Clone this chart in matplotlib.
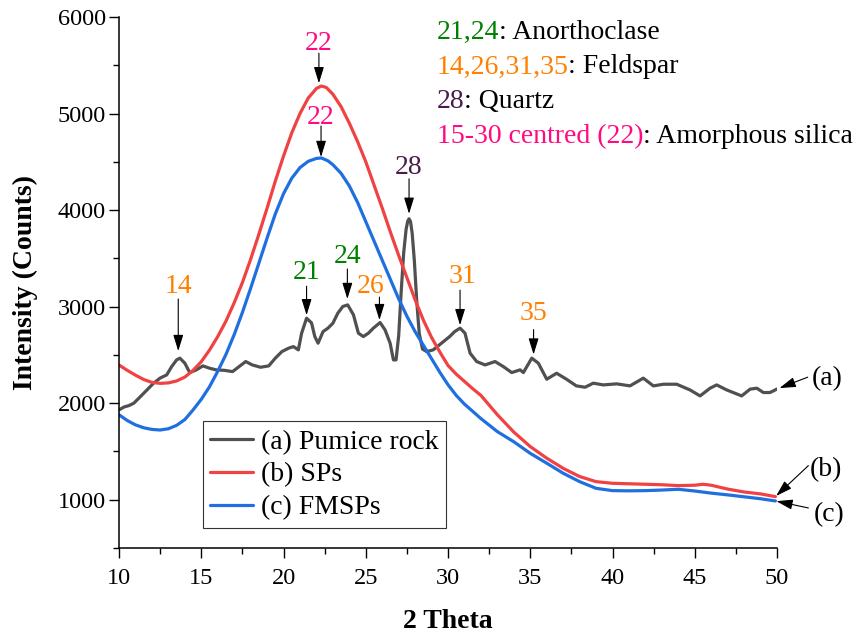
"""XRD patterns of pumice rock, SPs and FMSPs over 2θ = 10–50° with phase labels.

    python3 plot.py  ->  out.png
"""

import matplotlib

matplotlib.use("Agg")
import matplotlib.pyplot as plt
import numpy as np
from matplotlib.ticker import MultipleLocator

OUT = "out.png"
FONT = ["Liberation Serif", "DejaVu Serif"]

# (a) pumice rock: raw, noisy diffractogram
PUMICE_2THETA = [
    10.0, 10.3, 10.6, 10.9, 11.3, 11.7, 12.1, 12.5, 12.9, 13.2, 13.5, 13.7,
    14.0, 14.3, 14.7, 15.1, 15.5, 15.9, 16.4, 16.9, 17.3, 17.7, 18.1, 18.6,
    19.1, 19.5, 19.9, 20.3, 20.6, 20.9, 21.1, 21.4, 21.7, 21.9, 22.1, 22.4,
    22.7, 23.0, 23.3, 23.6, 23.9, 24.25, 24.55, 24.85, 25.16, 25.46, 25.87,
    26.17, 26.48, 26.68, 26.84, 27.0, 27.15, 27.3, 27.45, 27.55, 27.63, 27.72,
    27.82, 27.95, 28.1, 28.25, 28.45, 28.7, 29.1, 29.6, 30.1, 30.4, 30.73,
    31.03, 31.34, 31.74, 32.25, 32.86, 33.36, 33.87, 34.38, 34.58, 35.09,
    35.49, 36.0, 36.6, 37.2, 37.8, 38.33, 38.83, 39.44, 40.25, 41.06, 41.87,
    42.48, 43.09, 43.9, 44.71, 45.32, 45.93, 46.33, 46.94, 47.85, 48.36,
    48.77, 49.17, 49.57, 49.98,
]
PUMICE_COUNTS = [
    1930, 1960, 1975, 2000, 2068, 2137, 2207, 2260, 2293, 2379, 2448, 2466,
    2414, 2316, 2345, 2386, 2362, 2345, 2340, 2327, 2379, 2431, 2396, 2372,
    2386, 2466, 2534, 2569, 2586, 2552, 2725, 2880, 2832, 2690, 2621, 2741,
    2777, 2828, 2932, 3001, 3018, 2915, 2725, 2690, 2725, 2777, 2835,
    2759, 2621, 2448, 2448, 2700, 3150, 3550, 3800, 3885, 3910, 3880,
    3760, 3480, 3050, 2720, 2560, 2534, 2552, 2621, 2690, 2741, 2777,
    2725, 2518, 2431, 2396, 2431, 2379, 2317, 2345, 2317, 2466,
    2414, 2248, 2310, 2248, 2179, 2165, 2207, 2189, 2200, 2179, 2259,
    2179, 2196, 2196, 2137, 2075, 2155, 2189, 2137, 2075, 2145,
    2155, 2110, 2110, 2145,
]

# (b) SPs: broad amorphous hump
SP_2THETA = [
    10.0, 10.5, 11.0, 11.5, 12.0, 12.5, 13.0, 13.5, 14.0, 14.5, 15.0, 15.5,
    16.0, 16.5, 17.0, 17.5, 18.0, 18.5, 19.0, 19.5, 20.0, 20.5, 21.0, 21.5,
    22.0, 22.3, 22.6, 23.0, 23.5, 24.0, 24.5, 25.0, 25.5, 26.0, 26.5, 27.0,
    27.5, 28.0, 28.5, 29.0, 29.5, 30.0, 30.5, 31.0, 31.5, 32.0, 33.0, 34.0,
    35.0, 36.0, 37.0, 38.0, 39.0, 40.0, 41.0, 42.0, 43.0, 44.0, 45.0, 45.5,
    46.0, 47.0, 48.0, 49.0, 49.9,
]
SP_COUNTS = [
    2395, 2340, 2290, 2245, 2215, 2205, 2210, 2230, 2270, 2340, 2430, 2550,
    2690, 2850, 3040, 3250, 3490, 3750, 4020, 4300, 4560, 4800, 5000, 5160,
    5260, 5285, 5270, 5200, 5070, 4900, 4710, 4500, 4260, 4020, 3770, 3530,
    3300, 3070, 2860, 2680, 2530, 2390, 2300, 2225, 2150, 2080, 1880, 1700,
    1550, 1430, 1325, 1240, 1187, 1170, 1165, 1160, 1155, 1146, 1150, 1160,
    1150, 1110, 1080, 1060, 1032,
]

# (c) FMSPs
FMSP_2THETA = [
    10.0, 10.5, 11.0, 11.5, 12.0, 12.5, 13.0, 13.5, 14.0, 14.5, 15.0, 15.5,
    16.0, 16.5, 17.0, 17.5, 18.0, 18.5, 19.0, 19.5, 20.0, 20.5, 21.0, 21.5,
    22.0, 22.3, 22.7, 23.0, 23.5, 24.0, 24.5, 25.0, 25.5, 26.0, 26.5, 27.0,
    27.5, 28.0, 28.5, 29.0, 29.5, 30.0, 30.5, 31.0, 31.5, 32.0, 33.0, 34.0,
    35.0, 36.0, 37.0, 38.0, 39.0, 40.0, 41.0, 42.0, 43.0, 44.0, 45.0, 46.0,
    47.0, 48.0, 49.0, 49.9,
]
FMSP_COUNTS = [
    1880, 1820, 1775, 1745, 1728, 1722, 1735, 1770, 1830, 1930, 2040, 2170,
    2330, 2505, 2710, 2940, 3190, 3450, 3710, 3960, 4170, 4330, 4440, 4505,
    4535, 4540, 4510, 4470, 4380, 4250, 4080, 3880, 3680, 3480, 3280, 3080,
    2900, 2740, 2600, 2460, 2320, 2190, 2080, 1990, 1915, 1840, 1705, 1600,
    1480, 1378, 1274, 1187, 1118, 1094, 1092, 1094, 1100, 1108, 1090, 1068,
    1050, 1030, 1010, 987,
]

SERIES_LABELS = ["(a) Pumice rock", "(b) SPs", "(c) FMSPs"]
END_TAGS = ["(a)", "(b)", "(c)"]

PEAK_LABELS = ["14", "21", "22", "22", "24", "26", "28", "31", "35"]
PEAK_2THETA = [13.6, 21.4, 22.15, 22.28, 23.88, 25.83, 27.63, 30.73, 35.2]
PEAK_SERIES = [0, 0, 1, 2, 0, 0, 0, 0, 0]
PEAK_PHASE = ["feldspar", "anorthoclase", "silica", "silica", "anorthoclase",
              "feldspar", "quartz", "feldspar", "feldspar"]

KEY_PREFIX = ["21,24", "14,26,31,35", "28", "15-30 centred (22)"]
KEY_NAME = [": Anorthoclase", ": Feldspar", ": Quartz", ": Amorphous silica"]
KEY_PHASE = ["anorthoclase", "feldspar", "quartz", "silica"]

LINE_COLORS = ["#505050", "#F04242", "#1F6FE0"]
PHASE_COLORS = {"anorthoclase": "#008000", "feldspar": "#FF8000",
                "quartz": "#4A1C4A", "silica": "#FF0A80"}


def _arrow(ax, xy, tail, gap):
    """Black filled-head arrow from an offset (pixels) down to a data point."""
    ax.annotate("", xy=xy, xytext=tail, textcoords="offset pixels",
                arrowprops=dict(arrowstyle="-|>,head_length=0.55,head_width=0.17",
                                mutation_scale=18, color="black", lw=0.8,
                                shrinkA=0, shrinkB=gap * 0.72))


def draw(ax):
    series = [(PUMICE_2THETA, PUMICE_COUNTS), (SP_2THETA, SP_COUNTS), (FMSP_2THETA, FMSP_COUNTS)]
    for (x, y), label, color in zip(series, SERIES_LABELS, LINE_COLORS):
        ax.plot(x, y, color=color, lw=2.3, label=label, solid_capstyle="round")

    # peak markers: gap above curve, arrow tail, text baseline (px), text x shift
    layout = [(8, 52, 58, 0), (3, 29, 36, 0), (4, 30, 33, 0), (1, 31, 33, 0),
              (6, 30, 36, 0), (3, 23, 27, -9), (5, 35, 40, 0), (3, 35, 42, 2),
              (5, 25, 35, 0)]
    for label, x, idx, phase, (gap, tail, base, dx) in zip(
            PEAK_LABELS, PEAK_2THETA, PEAK_SERIES, PEAK_PHASE, layout):
        sx, sy = series[idx]
        y = float(np.interp(x, sx, sy))
        _arrow(ax, (x, y), (0, gap + tail), gap)
        ax.annotate(label, xy=(x, y), xytext=(dx, gap + base), textcoords="offset pixels",
                    ha="center", va="baseline", fontsize=20, color=PHASE_COLORS[phase])

    # (a)/(b)/(c) tags at the right-hand end of each curve
    tag_layout = [((31, 12), (50, 11), 3), ((33, 31), (51, 27), 1), ((33, -7), (54, -14), 1)]
    for (x, y), tag, (tail, text, gap) in zip(series, END_TAGS, tag_layout):
        end = (x[-1], y[-1])
        _arrow(ax, end, tail, gap)
        ax.annotate(tag, xy=end, xytext=text, textcoords="offset pixels",
                    ha="center", va="center", fontsize=20, annotation_clip=False)

    # phase key, top right
    for i, (prefix, name, phase) in enumerate(zip(KEY_PREFIX, KEY_NAME, KEY_PHASE)):
        t = ax.text(29.3, 5775 - i * 360, prefix, fontsize=20, va="baseline",
                    color=PHASE_COLORS[phase])
        ax.annotate(name, xy=(1, 0), xycoords=t, va="bottom", ha="left", fontsize=20)

    ax.set_xlim(10, 50)
    ax.set_ylim(500, 6000)
    ax.xaxis.set_major_locator(MultipleLocator(5))
    ax.xaxis.set_minor_locator(MultipleLocator(2.5))
    ax.yaxis.set_major_locator(MultipleLocator(1000))
    ax.yaxis.set_minor_locator(MultipleLocator(500))
    ax.spines[["top", "right"]].set_visible(False)
    for side in ("left", "bottom"):
        ax.spines[side].set_linewidth(1.1)
    ax.tick_params(which="major", direction="out", length=7, width=1.0, labelsize=17.5)
    ax.tick_params(which="minor", direction="out", length=4.3, width=1.0)
    ax.tick_params(axis="y", pad=2.5)
    ax.tick_params(axis="x", pad=7.5)
    ax.set_xlabel("2 Theta", fontsize=20, fontweight="bold", labelpad=14)
    ax.set_ylabel("Intensity (Counts)", fontsize=20, fontweight="bold", labelpad=14)

    leg = ax.legend(loc="lower left", bbox_to_anchor=(0.127, 0.037), borderaxespad=0,
                    fontsize=20, handlelength=1.55, handletextpad=0.26, labelspacing=0.27,
                    borderpad=0.28, fancybox=False, framealpha=1)
    leg.get_frame().set_edgecolor("#333333")
    leg.get_frame().set_linewidth(0.8)


def main():
    plt.rcParams["font.family"] = FONT
    fig = plt.figure(figsize=(8.57, 6.36), dpi=100)
    ax = fig.add_axes([0.1389, 0.1384, 0.7678, 0.8349])
    draw(ax)
    fig.savefig(OUT, dpi=100)


if __name__ == "__main__":
    main()
